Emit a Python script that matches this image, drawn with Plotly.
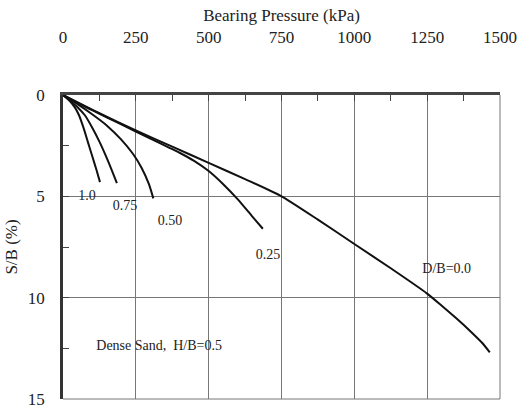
import plotly.graph_objects as go

# Bearing pressure (kPa) vs settlement ratio S/B (%) for each embedment ratio D/B
db_labels = ["1.0", "0.75", "0.50", "0.25", "D/B=0.0"]

p_10 = [0, 20, 40, 55, 70, 85, 100, 115, 127]
s_10 = [0, 0.25, 0.6, 1.0, 1.6, 2.3, 3.0, 3.7, 4.3]

p_075 = [0, 25, 50, 75, 100, 125, 150, 170, 185]
s_075 = [0, 0.3, 0.6, 1.0, 1.6, 2.3, 3.1, 3.8, 4.35]

p_050 = [0, 50, 100, 150, 200, 240, 270, 295, 310]
s_050 = [0, 0.45, 0.95, 1.5, 2.2, 2.9, 3.6, 4.4, 5.1]

p_025 = [0, 100, 200, 300, 400, 450, 500, 550, 600, 650, 686]
s_025 = [0, 0.75, 1.45, 2.15, 2.85, 3.25, 3.75, 4.4, 5.15, 6.0, 6.6]

p_00 = [0, 125, 250, 375, 500, 625, 750, 875, 1000, 1125, 1250, 1300, 1350, 1400, 1440, 1465]
s_00 = [0, 0.9, 1.75, 2.55, 3.35, 4.15, 5.0, 6.15, 7.35, 8.55, 9.8, 10.4, 11.02, 11.68, 12.25, 12.7]

# label anchor positions (data units)
label_p = [82, 213, 367, 704, 1317]
label_s = [5.0, 5.5, 6.25, 7.9, 8.6]

note_text = "Dense Sand,  H/B=0.5"
note_p, note_s = 330, 12.43

x_ticks = [0, 250, 500, 750, 1000, 1250, 1500]
y_ticks = [0, 5, 10, 15]

font_family = "Liberation Serif"

fig = go.Figure()
for px, sy in [(p_10, s_10), (p_075, s_075), (p_050, s_050), (p_025, s_025), (p_00, s_00)]:
    fig.add_trace(go.Scatter(x=px, y=sy, mode="lines",
                             line=dict(color="#111111", width=2, shape="spline", smoothing=0.6),
                             showlegend=False, hoverinfo="skip"))

fig.add_trace(go.Scatter(x=label_p, y=label_s, mode="text", text=db_labels,
                         textfont=dict(family=font_family, size=14, color="#222222"),
                         showlegend=False, hoverinfo="skip"))
fig.add_trace(go.Scatter(x=[note_p], y=[note_s], mode="text", text=[note_text],
                         textfont=dict(family=font_family, size=14, color="#222222"),
                         showlegend=False, hoverinfo="skip"))

fig.update_layout(
    width=520, height=413,
    margin=dict(l=63, r=20, t=95, b=14),
    paper_bgcolor="white", plot_bgcolor="white",
    font=dict(family=font_family, size=17, color="#222222"),
    xaxis=dict(
        side="top", range=[0, 1500], tickvals=x_ticks, automargin=False,
        showgrid=True, gridcolor="#777777", gridwidth=1,
        showline=True, linecolor="#444444", linewidth=3,
        ticks="inside", ticklen=6, tickcolor="#444444",
        minor=dict(dtick=125, ticks="inside", ticklen=6, tickcolor="#444444", showgrid=False),
        zeroline=False, ticklabelstandoff=42,
        title=dict(text="Bearing Pressure (kPa)", font=dict(size=17), standoff=3),
    ),
    yaxis=dict(
        range=[15, 0], tickvals=y_ticks, automargin=False,
        showgrid=True, gridcolor="#777777", gridwidth=1,
        showline=True, linecolor="#333333", linewidth=2.5,
        ticks="inside", ticklen=6, tickcolor="#444444",
        minor=dict(dtick=2.5, ticks="inside", ticklen=6, tickcolor="#444444", showgrid=False),
        zeroline=False, ticklabelstandoff=12,
        title=dict(text="S/B (%)", font=dict(size=17), standoff=6),
    ),
    shapes=[
        dict(type="line", xref="paper", yref="paper", x0=1, x1=1, y0=0, y1=1,
             line=dict(color="#777777", width=1)),
        dict(type="line", xref="paper", yref="paper", x0=0, x1=1, y0=0, y1=0,
             line=dict(color="#777777", width=1)),
    ],
)

fig.write_html("out.html")
